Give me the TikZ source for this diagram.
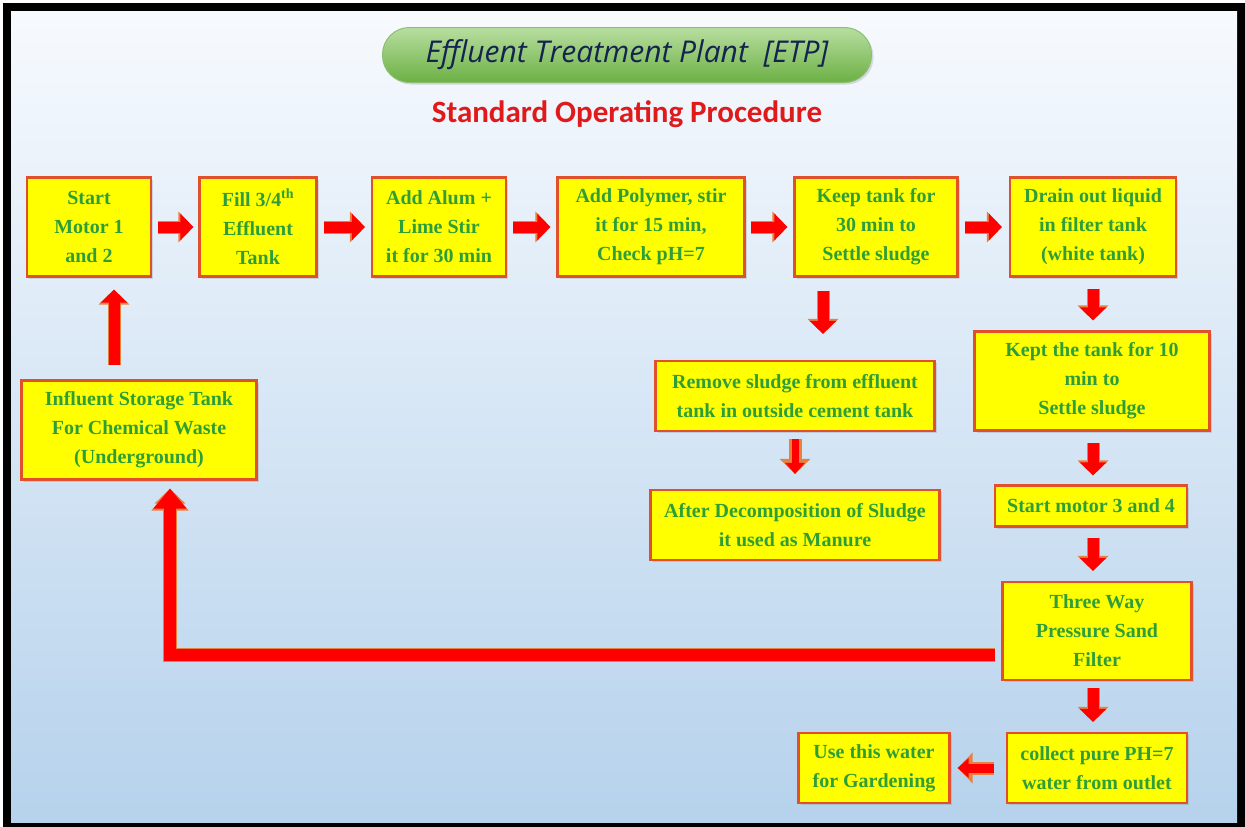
\documentclass[tikz,border=0pt]{standalone}
\usepackage{fontspec}
\setmainfont{Liberation Serif}
\newfontfamily\titlefont{Open Sans}
\newfontfamily\sopfont{Carlito}
\usetikzlibrary{arrows.meta, shadows}

\definecolor{boxfill}{HTML}{FFFF00}
\definecolor{boxline}{HTML}{E0502A}
\definecolor{txtgreen}{HTML}{2E9E38}
\definecolor{arrred}{HTML}{FF0000}
\definecolor{arredge}{HTML}{E8803E}
\definecolor{titlenavy}{HTML}{15244F}
\definecolor{pilltop}{HTML}{B8DEA0}
\definecolor{pillbot}{HTML}{6CB044}
\definecolor{pilledge}{HTML}{8CC070}
\definecolor{sopred}{HTML}{E01A1A}
\definecolor{bgtop}{HTML}{F7FAFE}
\definecolor{bgbot}{HTML}{B6D2EC}

\tikzset{
every picture/.style={
line width=1pt
}}

\begin{document}
\begin{tikzpicture}[x=1pt, y=-1pt,
block/.style = {rectangle, draw=boxline, line width=2.2pt, fill=boxfill, align=center,
  text=txtgreen, inner sep=0pt, font=\fontsize{20}{29}\selectfont\bfseries,
  drop shadow={opacity=0.25, shadow xshift=2pt, shadow yshift=-2pt}},
flow/.style = {line width=11pt, arrred, -{Triangle[width=26pt,length=13pt]},
  shorten <=6pt, shorten >=6pt,
  preaction={draw=arredge, line width=13pt, -{Triangle[width=30pt,length=15pt]}}},
thin flow/.style = {flow, line width=7pt, -{Triangle[width=19pt,length=11pt]},
  preaction={draw=arredge, line width=9pt, -{Triangle[width=23pt,length=13pt]}}},
big flow/.style = {flow, line width=12pt, -{Triangle[width=32pt,length=20pt]},
  preaction={draw=arredge, line width=14pt, -{Triangle[width=36pt,length=22pt]}}}]

  \useasboundingbox (0,0) rectangle (1245,827);
  % frame and background
  \fill[white] (0,0) rectangle (1245,827);
  \fill[black] (3,3) rectangle (1245,827);
  \shade[top color=bgtop, bottom color=bgbot] (11,11) rectangle (1237,822);

  % heading
  \node[rectangle, rounded corners=27pt, minimum width=489pt, minimum height=55pt,
    top color=pilltop, bottom color=pillbot, draw=pilledge,
    drop shadow={opacity=0.25, shadow xshift=2pt, shadow yshift=-2pt},
    text=titlenavy, font=\titlefont\itshape\fontsize{30}{34}\selectfont]
    (title) at (627,55) {Effluent Treatment Plant~~[ETP]};
  \node[text=sopred, font=\sopfont\bfseries\fontsize{31}{35}\selectfont]
    (sop) at (627,114) {Standard Operating Procedure};

  % top row
  \node[block, minimum width=124pt, minimum height=99pt] (a1) at (89,227) {Start\\Motor 1\\and 2};
  \node[block, minimum width=117pt, minimum height=99pt] (a2) at (258,227) {Fill 3/4\textsuperscript{th}\\Effluent\\Tank};
  \node[block, minimum width=134pt, minimum height=99pt] (a3) at (439,227) {Add Alum +\\Lime Stir\\it for 30 min};
  \node[block, minimum width=187pt, minimum height=99pt] (a4) at (651,227) {Add Polymer, stir\\it for 15 min,\\Check pH=7};
  \node[block, minimum width=163pt, minimum height=99pt] (a5) at (876,227) {Keep tank for\\30 min to\\Settle sludge};
  \node[block, minimum width=166pt, minimum height=99pt] (a6) at (1093,227) {Drain out liquid\\in filter tank\\(white tank)};

  % right column
  \node[block, minimum width=235pt, minimum height=99pt] (b1) at (1092,381) {Kept the tank for 10\\min to\\Settle sludge};
  \node[block, minimum width=192pt, minimum height=41pt] (b2) at (1091,506) {Start motor 3 and 4};
  \node[block, minimum width=189pt, minimum height=98pt] (b3) at (1097,631) {Three Way\\Pressure Sand\\Filter};
  \node[block, minimum width=180pt, minimum height=70pt] (b4) at (1097,768) {collect pure PH=7\\water from outlet};
  \node[block, minimum width=151pt, minimum height=70pt] (b5) at (874,768) {Use this water\\for Gardening};

  % sludge branch
  \node[block, minimum width=279pt, minimum height=70pt] (c1) at (795,396) {Remove sludge from effluent\\tank in outside cement tank};
  \node[block, minimum width=289pt, minimum height=70pt] (c2) at (795,525) {After Decomposition of Sludge\\it used as Manure};

  % storage tank
  \node[block, minimum width=235pt, minimum height=99pt] (in) at (139,430) {Influent Storage Tank\\For Chemical Waste\\(Underground)};

  % connectors
  \draw[flow, shorten >=5pt] (a1) -- (a2);
  \draw[flow] (a2) -- (a3);
  \draw[flow] (a3) -- (a4);
  \draw[flow, shorten <=5pt] (a4) -- (a5);
  \draw[flow, shorten >=7pt] (a5) -- (a6);
  \draw[flow, shorten <=13pt, shorten >=26pt] ([xshift=-53pt]a5.south) -- ([xshift=-53pt]a5.south |- c1.north);
  \draw[thin flow, shorten <=7pt, shorten >=15pt] (c1.south) -- (c2.north);
  \draw[flow, shorten <=11pt, shorten >=10pt] (a6.south) -- (a6.south |- b1.north);
  \draw[flow, shorten <=11pt, shorten >=9pt] ([xshift=1pt]b1.south) -- ([xshift=1pt]b1.south |- b2.north);
  \draw[flow, shorten <=10pt, shorten >=10pt] ([xshift=2pt]b2.south) -- ([xshift=2pt]b2.south |- b3.north);
  \draw[flow, shorten <=7pt, shorten >=10pt] ([xshift=-4pt]b3.south) -- ([xshift=-4pt]b3.south |- b4.north);
  \draw[thin flow, line width=9pt, shorten <=12pt, shorten >=7pt] (b4) -- (b5);
  \draw[big flow, shorten <=6pt, shorten >=8pt] ([yshift=-24pt]b3.west) -| ([xshift=31pt]in.south);
  \draw[flow, shorten <=14pt, shorten >=12pt] ([xshift=-25pt]in.north) -- ([xshift=25pt]a1.south);

\end{tikzpicture}
\end{document}
